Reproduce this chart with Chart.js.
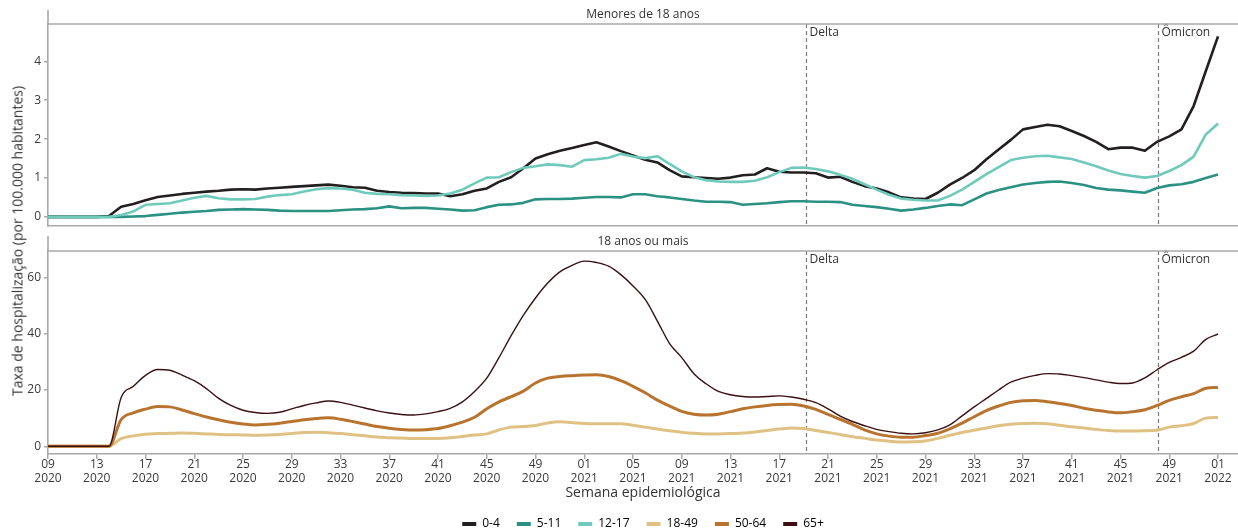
<!DOCTYPE html>
<html>
<head>
<meta charset="utf-8">
<script src="https://cdn.jsdelivr.net/npm/chart.js@4.4.1/dist/chart.umd.min.js"></script>
<style>
  html, body { margin: 0; padding: 0; background: #fff; overflow: hidden; }
  #wrap { position: relative; width: 1238px; height: 532px; overflow: hidden; }
  #topBox { position: absolute; left: 0; top: 0; width: 1238px; height: 236px; }
  #bottomBox { position: absolute; left: 0; top: 236px; width: 1238px; height: 304px; }
  #ytitle {
    position: absolute; left: 17px; top: 241px;
    transform: translate(-50%, -50%) rotate(-90deg);
    white-space: nowrap; font: 14px "Open Sans", sans-serif; color: #333;
  }
</style>
</head>
<body>
<div id="wrap">
  <div id="topBox"><canvas id="chartTop"></canvas></div>
  <div id="bottomBox"><canvas id="chartBottom"></canvas></div>
  <div id="ytitle">Taxa de hospitalização (por 100.000 habitantes)</div>
</div>
<script>
// Epidemiological weeks 09/2020 .. 01/2022 (one category per week)
const weekLabels = [];
for (let w = 9; w <= 52; w++) weekLabels.push(String(w).padStart(2, '0') + '/2020');
for (let w = 1; w <= 52; w++) weekLabels.push(String(w).padStart(2, '0') + '/2021');
weekLabels.push('01/2022');

// Axis tick labels, one every four weeks
const tickWeeks = ['09','13','17','21','25','29','33','37','41','45','49',
                   '01','05','09','13','17','21','25','29','33','37','41','45','49','01'];
const tickYears = ['2020','2020','2020','2020','2020','2020','2020','2020','2020','2020','2020',
                   '2021','2021','2021','2021','2021','2021','2021','2021','2021','2021','2021','2021','2021','2022'];
const topTicks = [0, 1, 2, 3, 4];
const bottomTicks = [0, 20, 40, 60];

// Variant markers (week position on the category axis)
const eventLabels = ['Delta', 'Ômicron'];
const eventWeeks = [62.2, 91.1];

// Hospitalisation rate per 100,000 — under 18
const age0_4 = [
  0,0,0,0,0,0.02,0.26,0.33,0.43,0.51,
  0.55,0.59,0.62,0.65,0.67,0.70,0.71,0.70,0.73,0.75,
  0.77,0.79,0.81,0.83,0.80,0.76,0.75,0.67,0.64,0.62,
  0.61,0.60,0.60,0.53,0.58,0.67,0.73,0.90,1.02,1.25,
  1.50,1.61,1.70,1.77,1.85,1.92,1.81,1.69,1.58,1.47,
  1.40,1.20,1.04,1.02,1.00,0.98,1.01,1.07,1.09,1.25,
  1.16,1.14,1.14,1.12,1.01,1.03,0.90,0.79,0.73,0.63,
  0.50,0.47,0.46,0.62,0.83,1.00,1.20,1.48,1.73,1.98,
  2.25,2.31,2.37,2.33,2.21,2.08,1.93,1.74,1.78,1.78,
  1.70,1.93,2.07,2.25,2.85,3.75,4.64
];
const age5_11 = [
  0,0,0,0,0,0,0,0.01,0.02,0.05,
  0.08,0.11,0.13,0.15,0.18,0.19,0.20,0.19,0.18,0.16,
  0.15,0.15,0.15,0.15,0.17,0.19,0.20,0.22,0.27,0.22,
  0.23,0.23,0.21,0.19,0.16,0.17,0.25,0.31,0.32,0.36,
  0.45,0.46,0.46,0.47,0.49,0.51,0.51,0.50,0.58,0.58,
  0.53,0.50,0.46,0.42,0.39,0.39,0.38,0.31,0.33,0.35,
  0.38,0.40,0.40,0.39,0.39,0.38,0.31,0.28,0.25,0.21,
  0.16,0.19,0.23,0.28,0.32,0.30,0.45,0.60,0.69,0.76,
  0.83,0.87,0.90,0.91,0.87,0.82,0.74,0.70,0.68,0.65,
  0.62,0.74,0.81,0.84,0.90,1.00,1.09
];
const age12_17 = [
  0,0,0,0,0,0,0.05,0.14,0.31,0.33,
  0.35,0.42,0.49,0.54,0.48,0.45,0.45,0.46,0.52,0.56,
  0.58,0.65,0.71,0.74,0.73,0.70,0.62,0.59,0.58,0.56,
  0.55,0.54,0.55,0.60,0.70,0.86,1.01,1.02,1.15,1.26,
  1.30,1.35,1.33,1.29,1.46,1.48,1.52,1.62,1.55,1.51,
  1.56,1.36,1.17,1.02,0.94,0.91,0.90,0.90,0.93,1.02,
  1.15,1.26,1.27,1.23,1.17,1.08,0.98,0.84,0.70,0.57,
  0.47,0.44,0.42,0.42,0.54,0.70,0.90,1.10,1.28,1.46,
  1.52,1.56,1.57,1.53,1.49,1.40,1.30,1.19,1.10,1.05,
  1.01,1.05,1.18,1.33,1.55,2.12,2.40
];

// Hospitalisation rate per 100,000 — 18 and over
const age18_49 = [
  0,0,0,0,0,0,2.7,3.7,4.3,4.5,
  4.6,4.7,4.6,4.4,4.2,4.1,4.0,3.9,4.0,4.2,
  4.5,4.9,5.0,4.8,4.5,4.1,3.7,3.3,3.0,2.9,
  2.8,2.8,2.8,3.0,3.5,4.0,4.4,5.8,6.8,7.0,
  7.4,8.3,8.7,8.4,8.1,8.0,8.0,8.0,7.5,6.8,
  6.1,5.5,5.0,4.6,4.4,4.4,4.5,4.7,5.1,5.6,
  6.1,6.5,6.3,5.6,4.9,4.2,3.4,2.8,2.2,1.8,
  1.5,1.6,1.9,2.8,3.9,4.9,5.7,6.5,7.3,7.8,
  8.1,8.2,8.0,7.5,6.9,6.5,6.0,5.6,5.4,5.4,
  5.5,5.7,6.8,7.3,8.1,10.0,10.2
];
const age50_64 = [
  0,0,0,0,0,0,9.5,11.9,13.2,14.1,
  14.0,12.9,11.6,10.4,9.4,8.5,7.9,7.6,7.8,8.2,
  8.8,9.4,9.9,10.1,9.6,8.8,7.9,7.0,6.4,6.0,
  5.8,5.9,6.3,7.3,8.6,10.3,13.3,15.8,17.6,19.6,
  22.5,24.2,24.8,25.1,25.3,25.4,24.8,23.3,21.3,19.0,
  16.4,14.3,12.4,11.4,11.1,11.4,12.3,13.3,14.0,14.5,
  14.8,14.9,14.3,13.1,11.3,9.6,7.8,5.8,4.4,3.6,
  3.2,3.2,3.8,4.6,6.2,8.2,10.5,12.7,14.3,15.6,
  16.2,16.3,15.8,15.2,14.5,13.5,12.8,12.2,11.9,12.3,
  13.0,14.5,16.3,17.6,18.7,20.6,20.9
];
const age65plus = [
  0,0,0,0,0,0,17.3,21.3,25.2,27.3,
  27.0,25.3,23.3,20.5,17.0,14.5,12.8,12.0,11.7,12.1,
  13.3,14.5,15.4,16.1,15.6,14.6,13.6,12.6,11.8,11.3,
  11.1,11.5,12.3,13.5,15.8,19.5,24.2,31.5,39.3,46.5,
  52.7,58.0,62.0,64.3,65.8,65.3,64.0,61.0,57.0,52.2,
  44.5,36.5,31.5,25.8,22.2,19.5,18.3,17.7,17.5,17.7,
  17.9,17.5,16.7,15.5,13.3,10.7,8.8,7.3,6.0,5.2,
  4.6,4.4,4.8,5.8,7.6,10.8,14.0,17.0,20.0,22.8,
  24.2,25.2,25.8,25.7,25.1,24.4,23.6,22.8,22.3,22.5,
  24.3,27.2,29.8,31.6,33.8,38.0,39.9
];

const seriesNames = ['0-4', '5-11', '12-17', '18-49', '50-64', '65+'];
const seriesColors = ['#231f20', '#2a9183', '#6fcabb', '#dfc283', '#b8742f', '#3b1013'];

Chart.defaults.font.family = '"Open Sans", sans-serif';
Chart.defaults.color = '#3a3a3a';

const AXIS_GRAY = '#a9a9a9';
const X_MAX = 97.64;

function points(values) {
  return values.map((v, i) => ({ x: i, y: v }));
}

function weekAxis(showLabels) {
  return {
    type: 'linear', min: 0, max: X_MAX,
    afterBuildTicks: s => { s.ticks = tickWeeks.map((w, k) => ({ value: k * 4 })); },
    afterFit: s => { s.height = showLabels ? 47 : 0; },
    ticks: {
      display: showLabels, autoSkip: false, maxRotation: 0, padding: -2,
      color: '#3a3a3a', font: { size: 12, lineHeight: 1.2 },
      callback: (v, idx) => [tickWeeks[idx], tickYears[idx]]
    },
    grid: { display: showLabels, drawOnChartArea: false, tickLength: 5, color: AXIS_GRAY, lineWidth: 1.5 },
    border: { display: true, color: AXIS_GRAY, width: 1.6 },
    title: {
      display: showLabels, text: 'Semana epidemiológica', color: '#333',
      font: { size: 14 }, padding: { top: 0, bottom: 0 }
    }
  };
}

function rateAxis(min, max, ticks) {
  return {
    type: 'linear', min, max,
    afterBuildTicks: s => { s.ticks = ticks.map(v => ({ value: v })); },
    afterFit: s => { s.width = 48; },
    ticks: { color: '#3a3a3a', font: { size: 12 }, padding: 3 },
    grid: { drawOnChartArea: false, tickLength: 4, color: AXIS_GRAY, lineWidth: 1.5 },
    border: { color: AXIS_GRAY, width: 1.6 }
  };
}

// Panel frame: strip line, strip title, axis extension and variant markers
const panelDecor = {
  id: 'panelDecor',
  beforeDatasetsDraw(chart) {
    const { ctx, chartArea: a, scales: { x } } = chart;
    ctx.save();
    ctx.font = '12px "Open Sans", sans-serif';
    ctx.textBaseline = 'middle';
    ctx.textAlign = 'left';
    eventWeeks.forEach((w, k) => {
      const px = Math.round(x.getPixelForValue(w)) + 0.5;
      ctx.setLineDash([4, 3]);
      ctx.strokeStyle = '#7b7b7b';
      ctx.lineWidth = 1.2;
      ctx.beginPath();
      ctx.moveTo(px, a.top);
      ctx.lineTo(px, a.bottom);
      ctx.stroke();
      ctx.setLineDash([]);
      ctx.fillStyle = '#333';
      ctx.fillText(eventLabels[k], px + 3, a.top + 9);
    });
    ctx.restore();
  },
  afterDraw(chart, args, opts) {
    const { ctx, chartArea: a } = chart;
    ctx.save();
    ctx.strokeStyle = AXIS_GRAY;
    ctx.lineWidth = 1.6;
    ctx.beginPath();
    ctx.moveTo(a.left, a.top);
    ctx.lineTo(a.right, a.top);
    ctx.stroke();
    ctx.beginPath();
    ctx.moveTo(a.left, a.top - opts.strip);
    ctx.lineTo(a.left, a.top);
    ctx.stroke();
    ctx.fillStyle = '#333';
    ctx.font = '12px "Open Sans", sans-serif';
    ctx.textAlign = 'center';
    ctx.textBaseline = 'middle';
    ctx.fillText(opts.title, (a.left + a.right) / 2, a.top - opts.strip / 2 - 2);
    ctx.restore();
  }
};

function lineSet(label, values, color, width, order, smooth) {
  return {
    label, data: points(values), borderColor: color, backgroundColor: color,
    borderWidth: width, pointRadius: 0, pointHoverRadius: 0, order,
    tension: smooth ? 0.4 : 0, cubicInterpolationMode: smooth ? 'monotone' : 'default',
    borderJoinStyle: 'round', borderCapStyle: 'butt'
  };
}

new Chart(document.getElementById('chartTop'), {
  type: 'line',
  data: {
    datasets: [
      lineSet(seriesNames[0], age0_4, seriesColors[0], 2.6, 1, false),
      lineSet(seriesNames[1], age5_11, seriesColors[1], 2.6, 2, false),
      lineSet(seriesNames[2], age12_17, seriesColors[2], 2.6, 0, false)
    ]
  },
  options: {
    responsive: true, maintainAspectRatio: false, animation: false,
    layout: { padding: { top: 24, bottom: 9, left: 0, right: 0 } },
    scales: { x: weekAxis(false), y: rateAxis(-0.23, 4.96, topTicks) },
    plugins: {
      legend: { display: false }, tooltip: { enabled: false },
      panelDecor: { title: 'Menores de 18 anos', strip: 14 }
    }
  },
  plugins: [panelDecor]
});

new Chart(document.getElementById('chartBottom'), {
  type: 'line',
  data: {
    datasets: [
      lineSet(seriesNames[3], age18_49, seriesColors[3], 3, 2, true),
      lineSet(seriesNames[4], age50_64, seriesColors[4], 3, 1, true),
      lineSet(seriesNames[5], age65plus, seriesColors[5], 1.4, 0, true)
    ]
  },
  options: {
    responsive: true, maintainAspectRatio: false, animation: false,
    layout: { padding: { top: 15, bottom: 0, left: 0, right: 0 } },
    scales: { x: weekAxis(true), y: rateAxis(-2.75, 69.4, bottomTicks) },
    plugins: {
      tooltip: { enabled: false },
      panelDecor: { title: '18 anos ou mais', strip: 15 },
      legend: {
        position: 'bottom', fullSize: false, onClick: null,
        labels: {
          boxWidth: 14, boxHeight: 4, padding: 17, color: '#333', font: { size: 12 },
          generateLabels: () => seriesNames.map((n, k) => ({
            text: n, fillStyle: seriesColors[k], strokeStyle: seriesColors[k],
            lineWidth: 0, hidden: false, datasetIndex: k
          }))
        }
      }
    }
  },
  plugins: [panelDecor]
});
</script>
</body>
</html>
